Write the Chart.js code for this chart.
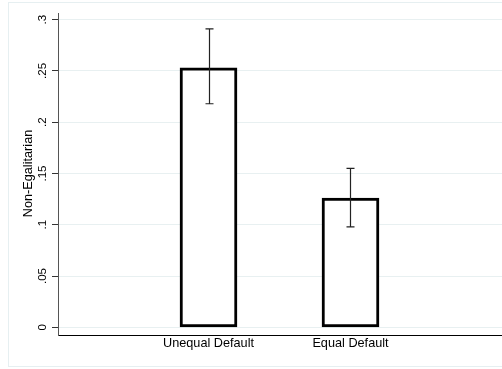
<!DOCTYPE html>
<html><head><meta charset="utf-8">
<script src="https://cdn.jsdelivr.net/npm/chart.js@4/dist/chart.umd.min.js"></script>
<style>html,body{margin:0;padding:0;background:#fff}#wrap{width:502px;height:369px;position:relative}</style>
</head><body><div id="wrap"><canvas id="c" width="502" height="369"></canvas></div>
<script>
const categories = ["Unequal Default", "Equal Default"];
const categoryPositions = [1, 2];
const means = [0.253, 0.126];
const ciLow = [0.218, 0.098];
const ciHigh = [0.291, 0.155];
const yTicks = [0, 0.05, 0.1, 0.15, 0.2, 0.25, 0.3];
const yTickLabels = ["0", ".05", ".1", ".15", ".2", ".25", ".3"];
const yTitle = "Non-Egalitarian";

const FONT = "'Liberation Sans', Arial, Helvetica, sans-serif";

const overlay = {
  id: 'overlay',
  beforeDraw(chart) {
    const ctx = chart.ctx;
    ctx.save();
    ctx.strokeStyle = '#e6eff1';
    ctx.lineWidth = 1;
    ctx.strokeRect(8.5, 2.5, 520, 364);
    ctx.restore();
  },
  afterDraw(chart) {
    const ctx = chart.ctx;
    const y = chart.scales.y, x = chart.scales.x;
    ctx.save();
    ctx.fillStyle = '#000';
    ctx.font = '11.5px ' + FONT;
    ctx.textAlign = 'center';
    ctx.textBaseline = 'middle';
    yTicks.forEach((v, i) => {
      const py = y.getPixelForValue(v);
      ctx.save();
      ctx.translate(42.5, py);
      ctx.rotate(-Math.PI / 2);
      ctx.fillText(yTickLabels[i], 0, 0);
      ctx.restore();
    });
    ctx.font = '12.7px ' + FONT;
    ctx.save();
    ctx.translate(28, (y.getPixelForValue(0) + y.getPixelForValue(0.3)) / 2);
    ctx.rotate(-Math.PI / 2);
    ctx.fillText(yTitle, 0, 0);
    ctx.restore();
    ctx.strokeStyle = '#222';
    ctx.lineWidth = 1.2;
    categoryPositions.forEach((c, i) => {
      const px = Math.round(x.getPixelForValue(c)) + 0.5;
      const lo = y.getPixelForValue(ciLow[i]);
      const hi = y.getPixelForValue(ciHigh[i]);
      ctx.beginPath();
      ctx.moveTo(px, lo); ctx.lineTo(px, hi);
      ctx.moveTo(px - 4, lo); ctx.lineTo(px + 4, lo);
      ctx.moveTo(px - 4, hi); ctx.lineTo(px + 4, hi);
      ctx.stroke();
    });
    ctx.restore();
  }
};

new Chart(document.getElementById('c'), {
  type: 'bar',
  data: {
    datasets: [{
      data: categoryPositions.map((c, i) => ({x: c, y: means[i]})),
      backgroundColor: '#ffffff',
      borderColor: '#000000',
      borderWidth: 3,
      barThickness: 57,
      borderSkipped: false
    }]
  },
  options: {
    responsive: false,
    animation: false,
    layout: {padding: {left: 0, right: 0, top: 13, bottom: 0}},
    plugins: {legend: {display: false}, tooltip: {enabled: false}},
    scales: {
      x: {
        type: 'linear',
        offset: false,
        min: -0.06,
        max: 3.067,
        afterBuildTicks(s) { s.ticks = categoryPositions.map(v => ({value: v})); },
        afterFit(s) { s.height = 34; },
        ticks: {
          callback(v) { const i = categoryPositions.indexOf(v); return i >= 0 ? categories[i] : ''; },
          color: '#000',
          font: {family: FONT, size: 12.7},
          padding: 1,
          maxRotation: 0,
          autoSkip: false
        },
        grid: {display: false, drawTicks: false, offset: false},
        border: {display: true, color: '#000', width: 1}
      },
      y: {
        min: -0.0075,
        max: 0.3065,
        afterBuildTicks(s) { s.ticks = yTicks.map(v => ({value: v})); },
        afterFit(s) { s.width = 58; },
        ticks: {display: false},
        grid: {color: '#e8f0f1', lineWidth: 1, drawTicks: true, tickLength: 6, tickColor: '#333'},
        border: {display: true, color: '#555', width: 1}
      }
    }
  },
  plugins: [overlay]
});
</script>
</body></html>
